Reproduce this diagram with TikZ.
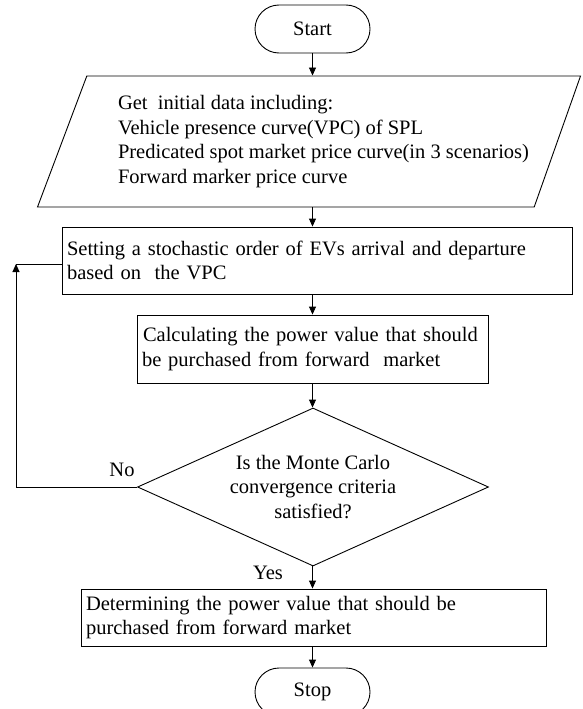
\documentclass[tikz,border=0pt]{standalone}
\usepackage{fontspec}
\setmainfont{Liberation Serif}
\usetikzlibrary{shapes.geometric,arrows.meta}

\begin{document}
\begin{tikzpicture}[x=1pt,y=-1pt,line width=0.9pt,
  every node/.style={font=\fontsize{20.5}{24.5}\selectfont},
  terminal/.style={draw,rectangle,rounded corners=24pt,minimum width=115pt,minimum height=48pt,inner sep=0pt},
  process/.style={draw,rectangle,align=left,inner xsep=5pt,inner ysep=0pt},
  decision/.style={draw,diamond,aspect=2.22,minimum width=351pt,minimum height=158pt,inner sep=0pt,align=center},
  flow/.style={-{Triangle[length=8pt,width=7pt]}}]
\useasboundingbox (0,0) rectangle (582,709);

% blocks
\node[terminal] (start) at (312.5,29) {Start};
\node[draw,trapezium,trapezium left angle=63.3,trapezium right angle=115.3,
  trapezium stretches body,minimum width=543pt,minimum height=131pt,inner sep=0pt] (data) at (310.5,141.5)
  {\hspace*{26pt}\begin{tabular}{@{}l@{}}Get\ \ initial data including:\\
  Vehicle presence curve(VPC) of SPL\\
  Predicated spot market price curve(in 3 scenarios)\\
  Forward marker price curve\end{tabular}};
\node[process,minimum height=67pt,text width=500pt] (order) at (317,260.5)
  {Setting a stochastic order of EVs arrival and departure\\based on\ \ the VPC};
\node[process,minimum height=68pt,text width=349pt,inner xsep=1pt] (calc) at (312.5,349)
  {\hspace*{5pt}Calculating the power value that should\\\hspace*{4pt}be purchased from forward\ \ market};
\node[decision] (conv) at (313,487)
  {Is the Monte Carlo\\convergence criteria\\satisfied?};
\node[process,minimum height=57pt,text width=455pt] (purch) at (313.5,617.5)
  {Determining the power value that should be\\purchased from forward market};
\node[terminal] (stop) at (312.5,692) {Stop};

% arrows
\draw[flow] (start.south) -- (start.south |- data.north);
\draw[flow] (start.south |- data.south) -- (start.south |- order.north);
\draw[flow] (calc |- order.south) -- (calc.north);
\draw[flow] (calc.south) -- (calc.south |- conv.north);
\draw[flow] (calc.south |- conv.south) -- (calc.south |- purch.north);
\draw[flow] (stop |- purch.south) -- (stop.north);

% loop back
\coordinate (back) at (16,264);
\draw[flow] (conv.west) -| (back);
\draw (back) -- (back -| order.west);
\node (no) at (122,470) {No};
\node (yes) at (268,573) {Yes};
\end{tikzpicture}
\end{document}
